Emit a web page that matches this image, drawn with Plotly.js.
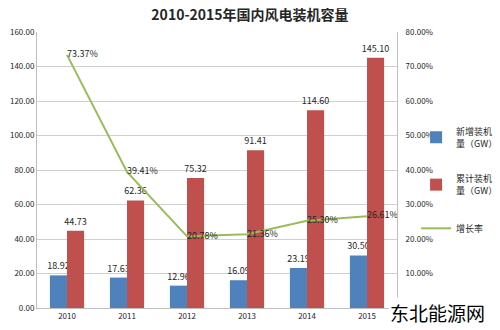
<!DOCTYPE html>
<html>
<head>
<meta charset="utf-8">
<script src="https://cdn.plot.ly/plotly-3.0.1.min.js"></script>
<style>html,body{margin:0;padding:0;background:#fff;}#chart{width:500px;height:330px;}</style>
</head>
<body>
<div id="chart"></div>
<script>
const years = ['2010','2011','2012','2013','2014','2015'];
const newCap = [18.92, 17.63, 12.96, 16.09, 23.19, 30.50];
const cumCap = [44.73, 62.36, 75.32, 91.41, 114.60, 145.10];
const growth = [73.37, 39.41, 20.78, 21.36, 25.30, 26.61];
const leftTicks = [0,20,40,60,80,100,120,140,160];
const rightTicks = [0,10,20,30,40,50,60,70,80];

const fontFam = '"Noto Sans CJK SC", "DejaVu Sans", sans-serif';
const lblFont = {family: fontFam, size: 9, color: '#262626'};

const traces = [
  {type:'bar', name:'新增装机<br>量（GW）', legendgroup:'a', x: years, y: newCap,
   marker:{color:'#4F81BD'}, text: newCap.map(v=>v.toFixed(2)), textposition:'outside',
   constraintext:'none', textfont: lblFont, cliponaxis:false, hoverinfo:'none'},
  {type:'bar', name:'累计装机<br>量（GW）', legendgroup:'b', x: years, y: cumCap,
   marker:{color:'#C0504D'}, text: cumCap.map(v=>v.toFixed(2)), textposition:'outside',
   constraintext:'none', textfont: lblFont, cliponaxis:false, hoverinfo:'none'},
  {type:'scatter', mode:'lines+text', name:'增长率', legendgroup:'c', x: years, y: growth, yaxis:'y2',
   line:{color:'#9BBB59', width:2}, text: growth.map(v=>v.toFixed(2)+'%'),
   textposition:'middle right', textfont: lblFont, cliponaxis:false, hoverinfo:'none'}
];

const layout = {
  width:500, height:330,
  margin:{l:37, r:103, t:32, b:22, autoexpand:false},
  paper_bgcolor:'#fff', plot_bgcolor:'#fff',
  title:{text:'<b>2010-2015年国内风电装机容量</b>', x:0.5, xanchor:'center', y:0.955, yanchor:'middle',
         font:{family:fontFam, size:14, color:'#262626'}},
  barmode:'group', bargap:0.43, bargroupgap:0,
  showlegend:true,
  legend:{x:1.053, xanchor:'left', y:0.46, yanchor:'middle', font:{family:fontFam, size:9, color:'#262626'},
          traceorder:'grouped', tracegroupgap:21, bgcolor:'rgba(0,0,0,0)', itemwidth:30},
  xaxis:{type:'category', showgrid:false, showline:true, linecolor:'#bfbfbf', linewidth:1,
         ticks:'', tickfont:{family:fontFam, size:8, color:'#262626'}, fixedrange:true},
  yaxis:{range:[0,160], tickvals:leftTicks, ticktext:leftTicks.map(v=>v.toFixed(2)),
         showgrid:true, gridcolor:'#d0d0d0', gridwidth:1, showline:true, linecolor:'#bfbfbf',
         zeroline:false, ticks:'', tickfont:{family:fontFam, size:8, color:'#262626'}, fixedrange:true},
  yaxis2:{range:[0,80], overlaying:'y', side:'right', tickvals:rightTicks,
          ticktext:rightTicks.map(v=>v.toFixed(2)+'%'), showgrid:false, showline:true,
          linecolor:'#bfbfbf', zeroline:false, ticks:'', ticklabelstandoff:6,
          tickfont:{family:fontFam, size:8, color:'#262626'}, fixedrange:true},
  annotations:[
    {text:'东北能源网', xref:'paper', yref:'paper', x:0.975, y:-0.015, xanchor:'left', yanchor:'middle',
     showarrow:false, bgcolor:'#fff', font:{family:fontFam, size:19, color:'#000'}}
  ]
};

Plotly.newPlot('chart', traces, layout, {displayModeBar:false, staticPlot:true});
</script>
</body>
</html>
